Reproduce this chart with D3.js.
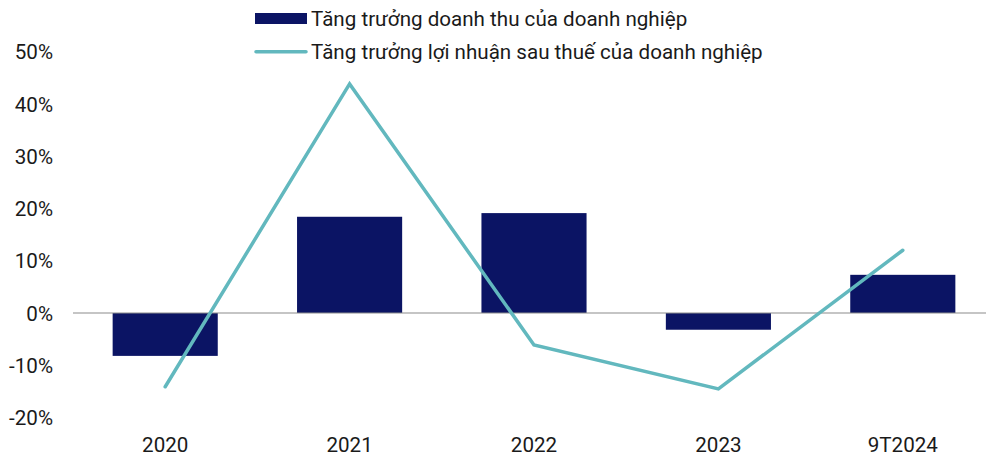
<!DOCTYPE html>
<html>
<head>
<meta charset="utf-8">
<script src="https://cdn.jsdelivr.net/npm/d3@7/dist/d3.min.js"></script>
<style>
  html, body { margin: 0; padding: 0; background: #fff; }
  svg { display: block; }
  text { font-family: Roboto, "Noto Sans", sans-serif; fill: #1a1a1a; }
</style>
</head>
<body>
<svg id="chart" width="986" height="457"></svg>
<script>
// Categories and growth rates (fractions)
const categories = ["2020", "2021", "2022", "2023", "9T2024"];
const revenueGrowth = [-0.082, 0.184, 0.191, -0.032, 0.073];
const profitGrowth = [-0.141, 0.438, -0.061, -0.145, 0.120];
const yTicks = [-0.2, -0.1, 0, 0.1, 0.2, 0.3, 0.4, 0.5];
const seriesNames = ["Tăng trưởng doanh thu của doanh nghiệp", "Tăng trưởng lợi nhuận sau thuế của doanh nghiệp"];

const barColor = "#0b1464";
const lineColor = "#62b8be";
const fontSize = "20.6px";

const svg = d3.select("#chart");

const x = d3.scaleBand().domain(categories).range([73, 995]).paddingInner(0.43).paddingOuter(0.215);
const y = d3.scaleLinear().domain([-0.2, 0.5]).range([417.6, 51.5]);

// Percent labels with a plain hyphen for negatives
const pct = d => (d < 0 ? "-" : "") + Math.round(Math.abs(d) * 100) + "%";

// Y axis labels
const yAxis = d3.axisLeft(y).tickValues(yTicks).tickFormat(pct).tickSize(0).tickPadding(0);
const gy = svg.append("g").attr("transform", "translate(53,0)").call(yAxis);
gy.select(".domain").remove();
gy.selectAll("text").style("font-size", fontSize).attr("fill", "#1a1a1a").attr("dy", "0.35em");

// X axis labels
const xAxis = d3.axisBottom(x).tickSize(0).tickPadding(0);
const gx = svg.append("g").attr("transform", "translate(0,433)").call(xAxis);
gx.select(".domain").remove();
gx.selectAll("text").style("font-size", fontSize).attr("fill", "#1a1a1a").attr("dy", "0.35em").attr("y", 12);

// Bars
svg.append("g").selectAll("rect")
  .data(categories.map((c, i) => ({ c, v: revenueGrowth[i] })))
  .join("rect")
  .attr("x", d => x(d.c))
  .attr("width", x.bandwidth())
  .attr("y", d => y(Math.max(0, d.v)))
  .attr("height", d => Math.abs(y(d.v) - y(0)))
  .attr("fill", barColor);

// Zero line
svg.append("line")
  .attr("x1", 73).attr("x2", 986)
  .attr("y1", y(0)).attr("y2", y(0))
  .attr("stroke", "#8c8c8c").attr("stroke-width", 1.2);

// Profit line
const line = d3.line()
  .x((d, i) => x(categories[i]) + x.bandwidth() / 2)
  .y(d => y(d));
svg.append("path")
  .datum(profitGrowth)
  .attr("d", line)
  .attr("fill", "none")
  .attr("stroke", lineColor)
  .attr("stroke-width", 3.5)
  .attr("stroke-linecap", "round")
  .attr("stroke-linejoin", "miter");

// Legend
const legend = svg.append("g");
legend.append("rect").attr("x", 255).attr("y", 13).attr("width", 52).attr("height", 11).attr("fill", barColor);
legend.append("text").attr("x", 311).attr("y", 19).attr("dy", "0.35em").style("font-size", fontSize).text(seriesNames[0]);
legend.append("line").attr("x1", 256).attr("x2", 306).attr("y1", 51.7).attr("y2", 51.7)
  .attr("stroke", lineColor).attr("stroke-width", 3.5).attr("stroke-linecap", "round");
legend.append("text").attr("x", 311).attr("y", 52).attr("dy", "0.35em").style("font-size", fontSize).text(seriesNames[1]);
</script>
</body>
</html>
